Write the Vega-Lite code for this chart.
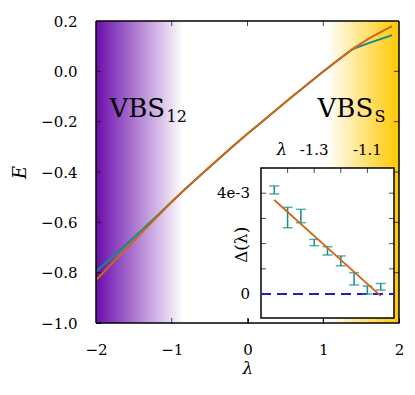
{
  "$schema": "https://vega.github.io/schema/vega-lite/v6.json",
  "width": 303,
  "height": 302,
  "autosize": "none",
  "padding": {"left": 96, "top": 21, "right": 16, "bottom": 72},
  "background": "white",
  "config": {
    "view": {"stroke": null},
    "font": "DejaVu Serif",
    "axis": {
      "grid": false, "domainColor": "black", "domainWidth": 1.5,
      "tickColor": "black", "tickWidth": 1, "tickSize": -5,
      "labelFont": "DejaVu Serif", "labelFontSize": 15, "labelColor": "black",
      "labelFlush": false, "labelOverlap": false, "labelBound": false,
      "titleFont": "DejaVu Serif", "titleFontWeight": "normal", "titleColor": "black",
      "titleFontStyle": "italic", "titleFontSize": 17, "zindex": 1
    }
  },
  "datasets": {
    "curves": [
      {"lam": -2.0, "E": -0.830, "s": "orange"},
      {"lam": -1.8, "E": -0.767, "s": "orange"},
      {"lam": -1.6, "E": -0.705, "s": "orange"},
      {"lam": -1.4, "E": -0.642, "s": "orange"},
      {"lam": -1.2, "E": -0.580, "s": "orange"},
      {"lam": -1.0, "E": -0.518, "s": "orange"},
      {"lam": -0.8, "E": -0.462, "s": "orange"},
      {"lam": -0.6, "E": -0.407, "s": "orange"},
      {"lam": -0.4, "E": -0.353, "s": "orange"},
      {"lam": -0.2, "E": -0.300, "s": "orange"},
      {"lam": 0.0, "E": -0.248, "s": "orange"},
      {"lam": 0.2, "E": -0.198, "s": "orange"},
      {"lam": 0.4, "E": -0.148, "s": "orange"},
      {"lam": 0.6, "E": -0.098, "s": "orange"},
      {"lam": 0.8, "E": -0.049, "s": "orange"},
      {"lam": 1.0, "E": -0.001, "s": "orange"},
      {"lam": 1.2, "E": 0.046, "s": "orange"},
      {"lam": 1.4, "E": 0.091, "s": "orange"},
      {"lam": 1.6, "E": 0.130, "s": "orange"},
      {"lam": 1.8, "E": 0.163, "s": "orange"},
      {"lam": 1.91, "E": 0.180, "s": "orange"},
      {"lam": -2.0, "E": -0.795, "s": "teal"},
      {"lam": -1.8, "E": -0.742, "s": "teal"},
      {"lam": -1.6, "E": -0.688, "s": "teal"},
      {"lam": -1.4, "E": -0.632, "s": "teal"},
      {"lam": -1.2, "E": -0.576, "s": "teal"},
      {"lam": -1.0, "E": -0.518, "s": "teal"},
      {"lam": -0.8, "E": -0.462, "s": "teal"},
      {"lam": -0.6, "E": -0.407, "s": "teal"},
      {"lam": -0.4, "E": -0.353, "s": "teal"},
      {"lam": -0.2, "E": -0.300, "s": "teal"},
      {"lam": 0.0, "E": -0.248, "s": "teal"},
      {"lam": 0.2, "E": -0.198, "s": "teal"},
      {"lam": 0.4, "E": -0.148, "s": "teal"},
      {"lam": 0.6, "E": -0.098, "s": "teal"},
      {"lam": 0.8, "E": -0.049, "s": "teal"},
      {"lam": 1.0, "E": -0.001, "s": "teal"},
      {"lam": 1.2, "E": 0.046, "s": "teal"},
      {"lam": 1.38, "E": 0.087, "s": "teal"},
      {"lam": 1.6, "E": 0.112, "s": "teal"},
      {"lam": 1.91, "E": 0.144, "s": "teal"}
    ],
    "delta": [
      {"lam": -1.45, "lo": 0.00397, "hi": 0.00429},
      {"lam": -1.40, "lo": 0.00263, "hi": 0.00344},
      {"lam": -1.35, "lo": 0.00283, "hi": 0.00336},
      {"lam": -1.30, "lo": 0.00192, "hi": 0.00217},
      {"lam": -1.25, "lo": 0.00155, "hi": 0.00188},
      {"lam": -1.20, "lo": 0.00112, "hi": 0.00151},
      {"lam": -1.15, "lo": 0.00036, "hi": 0.00085},
      {"lam": -1.10, "lo": 0.00000, "hi": 0.00032},
      {"lam": -1.05, "lo": 0.00016, "hi": 0.00042}
    ],
    "frameV": [{"x": -2, "y": -1, "y2": 0.2}, {"x": 2, "y": -1, "y2": 0.2}],
    "frameH": [{"y": -1, "x": -2, "x2": 2}, {"y": 0.2, "x": -2, "x2": 2}],
    "mainXT": [{"x": -1}, {"x": 0}, {"x": 1}],
    "mainYT": [{"y": -0.8}, {"y": -0.6}, {"y": -0.4}, {"y": -0.2}, {"y": 0}],
    "insXT": [{"x": -1.4}, {"x": -1.3}, {"x": -1.2}, {"x": -1.1}],
    "insYT": [{"y": 0.001}, {"y": 0.002}, {"y": 0.003}, {"y": 0.004}],
    "insLab": [{"x": -1.3, "y": 0.00571, "t": "-1.3"}, {"x": -1.1, "y": 0.00571, "t": "-1.1"}],
    "insTitle": [{"x": -1.421, "y": 0.00571, "t": "λ"}],
    "insYLab": [{"x": -1.5414, "y": 0.004, "t": "4e-3"}, {"x": -1.5414, "y": 0, "t": "0"}],
    "insYTitle": [{"x": -1.5726, "y": 0.00195, "t": "Δ(λ)"}]
  },
  "layer": [
    {
      "layer": [
        {
          "data": {"values": [{"a": -2, "b": -0.85}]},
          "mark": {"type": "rect", "fill": {"gradient": "linear", "x1": 0, "y1": 0, "x2": 1, "y2": 0, "stops": [{"offset": 0, "color": "#6a0dab"}, {"offset": 1, "color": "#ffffff"}]}},
          "encoding": {
            "x": {"field": "a", "type": "quantitative", "scale": {"domain": [-2, 2], "nice": false, "zero": false},
              "axis": {"orient": "bottom", "domain": false, "values": [-2, -1, 0, 1, 2], "format": "d", "labelPadding": 24, "title": "λ", "titleY": 45, "titleBaseline": "middle"}},
            "x2": {"field": "b"}
          }
        },
        {
          "data": {"values": [{"a": 1.05, "b": 2}]},
          "mark": {"type": "rect", "fill": {"gradient": "linear", "x1": 0, "y1": 0, "x2": 1, "y2": 0, "stops": [{"offset": 0, "color": "#ffffff"}, {"offset": 1, "color": "#ffc800"}]}},
          "encoding": {
            "x": {"field": "a", "type": "quantitative", "scale": {"domain": [-2, 2], "nice": false, "zero": false}, "axis": null},
            "x2": {"field": "b"}
          }
        },
        {
          "data": {"name": "curves"},
          "transform": [{"filter": "datum.s === 'teal'"}],
          "mark": {"type": "line", "color": "#128a8b", "strokeWidth": 2},
          "encoding": {
            "x": {"field": "lam", "type": "quantitative", "scale": {"domain": [-2, 2], "nice": false, "zero": false}, "axis": null},
            "y": {"field": "E", "type": "quantitative", "scale": {"domain": [-1, 0.2], "nice": false, "zero": false},
              "axis": {"orient": "left", "domain": false, "values": [-1, -0.8, -0.6, -0.4, -0.2, 0, 0.2], "format": ".1f", "labelPadding": 24, "title": "E", "titleX": -76, "titleY": 151, "titleAngle": -90, "titleBaseline": "middle", "titleFontSize": 18}}
          }
        },
        {
          "data": {"name": "curves"},
          "transform": [{"filter": "datum.s === 'orange'"}],
          "mark": {"type": "line", "color": "#d2650f", "strokeWidth": 2},
          "encoding": {
            "x": {"field": "lam", "type": "quantitative", "scale": {"domain": [-2, 2], "nice": false, "zero": false}, "axis": null},
            "y": {"field": "E", "type": "quantitative", "scale": {"domain": [-1, 0.2], "nice": false, "zero": false}, "axis": null}
          }
        },
        {
          "data": {"name": "frameV"},
          "mark": {"type": "rule", "color": "black", "strokeWidth": 1.5},
          "encoding": {
            "x": {"field": "x", "type": "quantitative", "scale": {"domain": [-2, 2], "nice": false, "zero": false}, "axis": null},
            "y": {"field": "y", "type": "quantitative", "scale": {"domain": [-1, 0.2], "nice": false, "zero": false}, "axis": null},
            "y2": {"field": "y2"}
          }
        },
        {
          "data": {"name": "frameH"},
          "mark": {"type": "rule", "color": "black", "strokeWidth": 1.5},
          "encoding": {
            "x": {"field": "x", "type": "quantitative", "scale": {"domain": [-2, 2], "nice": false, "zero": false}, "axis": null},
            "x2": {"field": "x2"},
            "y": {"field": "y", "type": "quantitative", "scale": {"domain": [-1, 0.2], "nice": false, "zero": false}, "axis": null}
          }
        },
        {
          "data": {"name": "mainXT"},
          "mark": {"type": "tick", "orient": "vertical", "color": "black", "size": 5, "thickness": 1, "yOffset": -2.5},
          "encoding": {
            "x": {"field": "x", "type": "quantitative", "scale": {"domain": [-2, 2], "nice": false, "zero": false}, "axis": null},
            "y": {"datum": -1, "type": "quantitative", "scale": {"domain": [-1, 0.2], "nice": false, "zero": false}, "axis": null}
          }
        },
        {
          "data": {"name": "mainXT"},
          "mark": {"type": "tick", "orient": "vertical", "color": "black", "size": 5, "thickness": 1, "yOffset": 2.5},
          "encoding": {
            "x": {"field": "x", "type": "quantitative", "scale": {"domain": [-2, 2], "nice": false, "zero": false}, "axis": null},
            "y": {"datum": 0.2, "type": "quantitative", "scale": {"domain": [-1, 0.2], "nice": false, "zero": false}, "axis": null}
          }
        },
        {
          "data": {"name": "mainYT"},
          "mark": {"type": "tick", "orient": "horizontal", "color": "black", "size": 5, "thickness": 1, "xOffset": 2.5},
          "encoding": {
            "x": {"datum": -2, "type": "quantitative", "scale": {"domain": [-2, 2], "nice": false, "zero": false}, "axis": null},
            "y": {"field": "y", "type": "quantitative", "scale": {"domain": [-1, 0.2], "nice": false, "zero": false}, "axis": null}
          }
        },
        {
          "data": {"name": "mainYT"},
          "mark": {"type": "tick", "orient": "horizontal", "color": "black", "size": 5, "thickness": 1, "xOffset": -2.5},
          "encoding": {
            "x": {"datum": 2, "type": "quantitative", "scale": {"domain": [-2, 2], "nice": false, "zero": false}, "axis": null},
            "y": {"field": "y", "type": "quantitative", "scale": {"domain": [-1, 0.2], "nice": false, "zero": false}, "axis": null}
          }
        },
        {
          "data": {"values": [{"lam": -1.822, "E": -0.180, "t": "VBS"}, {"lam": 0.924, "E": -0.180, "t": "VBS"}]},
          "mark": {"type": "text", "font": "DejaVu Serif", "fontSize": 26, "align": "left", "baseline": "alphabetic", "color": "black"},
          "encoding": {
            "x": {"field": "lam", "type": "quantitative", "scale": {"domain": [-2, 2], "nice": false, "zero": false}, "axis": null},
            "y": {"field": "E", "type": "quantitative", "scale": {"domain": [-1, 0.2], "nice": false, "zero": false}, "axis": null},
            "text": {"field": "t"}
          }
        },
        {
          "data": {"values": [{"lam": -1.07, "E": -0.200, "t": "12"}, {"lam": 1.675, "E": -0.201, "t": "S"}]},
          "mark": {"type": "text", "font": "DejaVu Serif", "fontSize": 16, "align": "left", "baseline": "alphabetic", "color": "black"},
          "encoding": {
            "x": {"field": "lam", "type": "quantitative", "scale": {"domain": [-2, 2], "nice": false, "zero": false}, "axis": null},
            "y": {"field": "E", "type": "quantitative", "scale": {"domain": [-1, 0.2], "nice": false, "zero": false}, "axis": null},
            "text": {"field": "t"}
          }
        }
      ],
      "resolve": {"axis": {"x": "independent", "y": "independent"}}
    },
    {
      "layer": [
        {
          "data": {"values": [{"x1": -1.5, "x2": -1.0, "y1": -0.00095, "y2": 0.005}]},
          "mark": {"type": "rect", "fill": "white", "stroke": "black", "strokeWidth": 1.5},
          "encoding": {
            "x": {"field": "x1", "type": "quantitative", "scale": {"domain": [-1.5, -1.0], "range": [165, 298], "nice": false, "zero": false}, "axis": null},
            "x2": {"field": "x2"},
            "y": {"field": "y1", "type": "quantitative", "scale": {"domain": [-0.00095, 0.005], "range": [297, 147], "nice": false, "zero": false}, "axis": null},
            "y2": {"field": "y2"}
          }
        },
        {
          "data": {"values": [{"x1": -1.5, "x2": -1.0, "y": 0}]},
          "mark": {"type": "rule", "color": "#1c1ce6", "strokeWidth": 2, "strokeDash": [10, 6]},
          "encoding": {
            "x": {"field": "x1", "type": "quantitative", "scale": {"domain": [-1.5, -1.0], "range": [165, 298], "nice": false, "zero": false}, "axis": null},
            "x2": {"field": "x2"},
            "y": {"field": "y", "type": "quantitative", "scale": {"domain": [-0.00095, 0.005], "range": [297, 147], "nice": false, "zero": false}, "axis": null}
          }
        },
        {
          "data": {"name": "insXT"},
          "mark": {"type": "tick", "orient": "vertical", "color": "black", "size": 5, "thickness": 1, "yOffset": 2.5},
          "encoding": {
            "x": {"field": "x", "type": "quantitative", "scale": {"domain": [-1.5, -1.0], "range": [165, 298], "nice": false, "zero": false}, "axis": null},
            "y": {"datum": 0.005, "type": "quantitative", "scale": {"domain": [-0.00095, 0.005], "range": [297, 147], "nice": false, "zero": false}, "axis": null}
          }
        },
        {
          "data": {"name": "insYT"},
          "mark": {"type": "tick", "orient": "horizontal", "color": "black", "size": 5, "thickness": 1, "xOffset": 2.5},
          "encoding": {
            "x": {"datum": -1.5, "type": "quantitative", "scale": {"domain": [-1.5, -1.0], "range": [165, 298], "nice": false, "zero": false}, "axis": null},
            "y": {"field": "y", "type": "quantitative", "scale": {"domain": [-0.00095, 0.005], "range": [297, 147], "nice": false, "zero": false}, "axis": null}
          }
        },
        {
          "data": {"name": "insYT"},
          "mark": {"type": "tick", "orient": "horizontal", "color": "black", "size": 5, "thickness": 1, "xOffset": -2.5},
          "encoding": {
            "x": {"datum": -1.0, "type": "quantitative", "scale": {"domain": [-1.5, -1.0], "range": [165, 298], "nice": false, "zero": false}, "axis": null},
            "y": {"field": "y", "type": "quantitative", "scale": {"domain": [-0.00095, 0.005], "range": [297, 147], "nice": false, "zero": false}, "axis": null}
          }
        },
        {
          "data": {"name": "insLab"},
          "mark": {"type": "text", "font": "DejaVu Serif", "fontSize": 15, "align": "center", "baseline": "middle", "color": "black"},
          "encoding": {
            "x": {"field": "x", "type": "quantitative", "scale": {"domain": [-1.5, -1.0], "range": [165, 298], "nice": false, "zero": false}, "axis": null},
            "y": {"field": "y", "type": "quantitative", "scale": {"domain": [-0.00095, 0.005], "range": [297, 147], "nice": false, "zero": false}, "axis": null},
            "text": {"field": "t"}
          }
        },
        {
          "data": {"name": "insTitle"},
          "mark": {"type": "text", "font": "DejaVu Serif", "fontSize": 17, "fontStyle": "italic", "align": "center", "baseline": "middle", "color": "black"},
          "encoding": {
            "x": {"field": "x", "type": "quantitative", "scale": {"domain": [-1.5, -1.0], "range": [165, 298], "nice": false, "zero": false}, "axis": null},
            "y": {"field": "y", "type": "quantitative", "scale": {"domain": [-0.00095, 0.005], "range": [297, 147], "nice": false, "zero": false}, "axis": null},
            "text": {"field": "t"}
          }
        },
        {
          "data": {"name": "insYLab"},
          "mark": {"type": "text", "font": "DejaVu Serif", "fontSize": 15, "align": "right", "baseline": "middle", "color": "black"},
          "encoding": {
            "x": {"field": "x", "type": "quantitative", "scale": {"domain": [-1.5, -1.0], "range": [165, 298], "nice": false, "zero": false}, "axis": null},
            "y": {"field": "y", "type": "quantitative", "scale": {"domain": [-0.00095, 0.005], "range": [297, 147], "nice": false, "zero": false}, "axis": null},
            "text": {"field": "t"}
          }
        },
        {
          "data": {"name": "insYTitle"},
          "mark": {"type": "text", "font": "DejaVu Serif", "fontSize": 17, "angle": 270, "align": "center", "baseline": "middle", "color": "black"},
          "encoding": {
            "x": {"field": "x", "type": "quantitative", "scale": {"domain": [-1.5, -1.0], "range": [165, 298], "nice": false, "zero": false}, "axis": null},
            "y": {"field": "y", "type": "quantitative", "scale": {"domain": [-0.00095, 0.005], "range": [297, 147], "nice": false, "zero": false}, "axis": null},
            "text": {"field": "t"}
          }
        },
        {
          "data": {"name": "delta"},
          "mark": {"type": "errorbar", "color": "#138c8c", "thickness": 1.5, "ticks": {"size": 10, "thickness": 1.5, "color": "#138c8c"}},
          "encoding": {
            "x": {"field": "lam", "type": "quantitative", "scale": {"domain": [-1.5, -1.0], "range": [165, 298], "nice": false, "zero": false}, "axis": null},
            "y": {"field": "lo", "type": "quantitative", "scale": {"domain": [-0.00095, 0.005], "range": [297, 147], "nice": false, "zero": false}, "axis": null},
            "y2": {"field": "hi"}
          }
        },
        {
          "data": {"values": [{"lam": -1.45, "d": 0.00373}, {"lam": -1.05, "d": -0.00007}]},
          "mark": {"type": "line", "color": "#d2650f", "strokeWidth": 1.8},
          "encoding": {
            "x": {"field": "lam", "type": "quantitative", "scale": {"domain": [-1.5, -1.0], "range": [165, 298], "nice": false, "zero": false}, "axis": null},
            "y": {"field": "d", "type": "quantitative", "scale": {"domain": [-0.00095, 0.005], "range": [297, 147], "nice": false, "zero": false}, "axis": null}
          }
        }
      ]
    }
  ],
  "resolve": {"scale": {"x": "independent", "y": "independent"}, "axis": {"x": "independent", "y": "independent"}}
}
